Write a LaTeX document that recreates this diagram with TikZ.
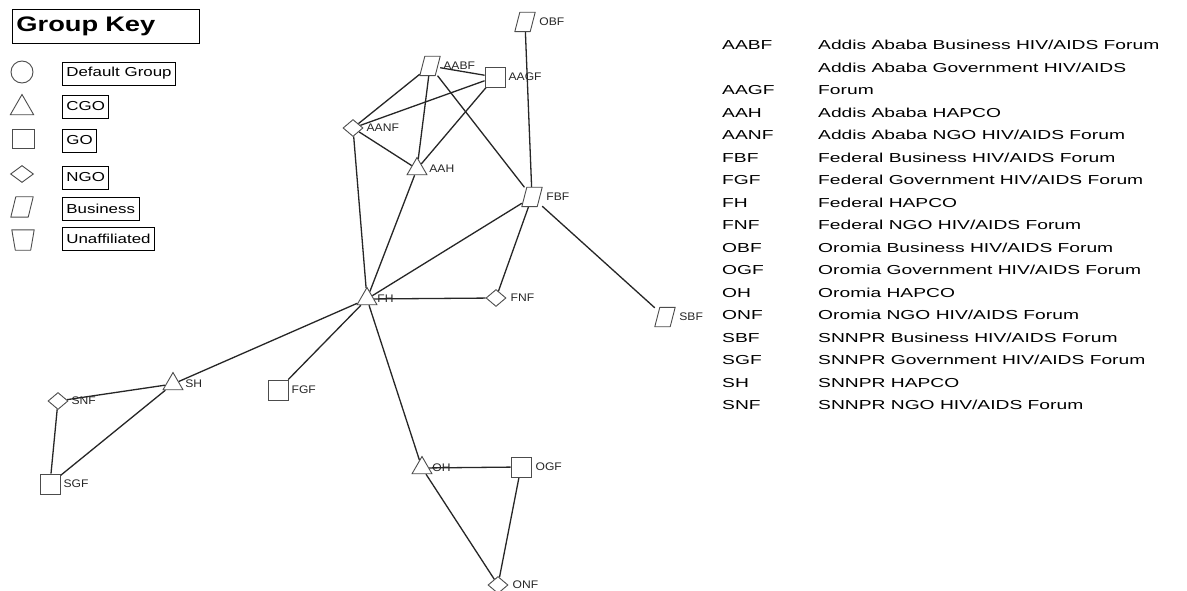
\documentclass[tikz,border=0pt]{standalone}
\usepackage{fontspec}
\setmainfont{Liberation Sans}
\newfontfamily\tabfont[FakeStretch=1.48]{Liberation Sans}
\newfontfamily\keyfont[FakeStretch=1.3]{Liberation Sans}
\newfontfamily\lblfont[FakeStretch=1.1]{Liberation Sans}
\usetikzlibrary{shapes.geometric}
\pgfdeclarelayer{bg}\pgfsetlayers{bg,main}
\tikzset{
  shp/.style={draw=black!70, fill=white, line width=0.9pt, inner sep=0pt},
  tri/.style={shp, regular polygon, regular polygon sides=3, minimum size=23pt},
  sq/.style={shp, rectangle, minimum size=20pt},
  dia/.style={shp, diamond, minimum width=20pt, minimum height=17pt},
  par/.style={inner sep=0pt, rectangle, minimum width=20pt, minimum height=19pt},
  pline/.style={draw=black!70, fill=white, line width=0.9pt, line join=round},
  lbl/.style={font=\lblfont\fontsize{11}{11}\selectfont, text=black!85, inner sep=0pt},
  lnk/.style={draw=black!85, line width=1.3pt},
  keybox/.style={draw=black, line width=0.8pt, font=\keyfont\fontsize{13}{13}\selectfont, inner xsep=4pt, inner ysep=0pt, minimum height=23pt, anchor=west},
  tab/.style={font=\tabfont\fontsize{13}{13}\selectfont, anchor=base west, inner sep=0pt},
}
\begin{document}
\begin{tikzpicture}[x=1pt,y=-1pt]
\useasboundingbox (0,0) rectangle (1187,591);
\begin{pgfonlayer}{bg}
\fill[white] (0,0) rectangle (1187,591);
\end{pgfonlayer}

% ---------- group key ----------
\node[draw=black, line width=0.8pt, anchor=north west, minimum width=187pt, minimum height=34pt,
      text width=179pt, align=left, inner xsep=4pt, font=\keyfont\bfseries\fontsize{21}{21}\selectfont] (gk) at (12,9) {Group Key};
\node[shp, circle, minimum size=22pt] (kc) at (22,72) {};
\node[keybox] (kcl) at (62,73.5) {Default Group};
\node[shp, regular polygon, regular polygon sides=3, minimum size=27pt] (kt) at (22,108) {};
\node[keybox] (ktl) at (62,106.5) {CGO};
\node[shp, rectangle, minimum width=22pt, minimum height=19pt] (ks) at (23,139) {};
\node[keybox] (ksl) at (62,140.5) {GO};
\node[shp, diamond, minimum width=23pt, minimum height=17pt] (kd) at (22,174) {};
\node[keybox] (kdl) at (62,177.5) {NGO};
\node[par, minimum width=22pt, minimum height=20pt] (kp) at (22,207) {};
\draw[pline] (kp.south west) -- ([xshift=-5pt]kp.south east) -- (kp.north east) -- ([xshift=5pt]kp.north west) -- cycle;
\node[keybox] (kpl) at (62,208.5) {Business};
\node[par, minimum width=22pt, minimum height=20pt] (ku) at (23,240) {};
\draw[pline] (ku.north west) -- (ku.north east) -- ([xshift=-3.5pt]ku.south east) -- ([xshift=3.5pt]ku.south west) -- cycle;
\node[keybox] (kul) at (62,238.5) {Unaffiliated};

% ---------- graph nodes ----------
\node[par, label={[lbl,label distance=4pt]east:OBF}] (OBF) at (525,22) {};
\node[par, label={[lbl,label distance=3pt]east:AABF}] (AABF) at (430,66) {};
\node[sq, label={[lbl,label distance=3pt]east:AAGF}] (AAGF) at (495,77) {};
\node[dia, label={[lbl,label distance=3pt]east:AANF}] (AANF) at (353,128) {};
\node[tri, label={[lbl,label distance=5pt]east:AAH}] (AAH) at (417,169) {};
\node[par, label={[lbl,label distance=4pt]east:FBF}] (FBF) at (532,197) {};
\node[tri, label={[lbl,label distance=3pt]east:FH}] (FH) at (367,299) {};
\node[dia, label={[lbl,label distance=4pt]east:FNF}] (FNF) at (496,298) {};
\node[par, label={[lbl,label distance=4pt]east:SBF}] (SBF) at (665,317) {};
\node[tri, label={[lbl,label distance=5pt]east:SH}] (SH) at (173,384) {};
\node[dia, label={[lbl,label distance=3pt]east:SNF}] (SNF) at (58,401) {};
\node[sq, label={[lbl,label distance=3pt]east:FGF}] (FGF) at (278,390) {};
\node[sq, label={[lbl,label distance=3pt]east:SGF}] (SGF) at (50,484) {};
\node[tri, label={[lbl,label distance=3pt]east:OH}] (OH) at (422,468) {};
\node[sq, label={[lbl,label distance=4pt]east:OGF}] (OGF) at (521,467) {};
\node[dia, label={[lbl,label distance=4pt]east:ONF}] (ONF) at (498,585) {};
\foreach \n in {OBF,AABF,FBF,SBF}
  \draw[pline] (\n.south west) -- ([xshift=-5pt]\n.south east) -- (\n.north east) -- ([xshift=5pt]\n.north west) -- cycle;

% ---------- connectors ----------
\begin{pgfonlayer}{bg}
\draw[lnk] (OBF) -- (FBF);
\draw[lnk] (AABF) -- (AAGF);
\draw[lnk] (AABF) -- (AANF);
\draw[lnk] (AABF) -- (AAH);
\draw[lnk] (AABF) -- (FBF);
\draw[lnk] (AAGF) -- (AANF);
\draw[lnk] (AAGF) -- (AAH);
\draw[lnk] (AANF) -- (AAH);
\draw[lnk] (AANF) -- (FH);
\draw[lnk] (AAH) -- (FH);
\draw[lnk] (FBF) -- (FH);
\draw[lnk] (FBF) -- (FNF);
\draw[lnk] (FBF) -- (SBF);
\draw[lnk] (FH) -- (FNF);
\draw[lnk] (FH) -- (SH);
\draw[lnk] (FH) -- (FGF);
\draw[lnk] (FH) -- (OH);
\draw[lnk] (SH) -- (SNF);
\draw[lnk] (SH) -- (SGF);
\draw[lnk] (SNF) -- (SGF);
\draw[lnk] (OH) -- (OGF);
\draw[lnk] (OH) -- (ONF);
\draw[lnk] (OGF) -- (ONF);
\end{pgfonlayer}

% ---------- abbreviation table ----------
\node[tab] (a1) at (722,49.7) {AABF};
\node[tab] (d1) at (818,49.7) {Addis Ababa Business HIV/AIDS Forum};
\node[tab] (d2a) at (818,72.2) {Addis Ababa Government HIV/AIDS};
\node[tab] (a2) at (722,94.7) {AAGF};
\node[tab] (d2b) at (818,94.7) {Forum};
\node[tab] (a3) at (722,117.2) {AAH};
\node[tab] (d3) at (818,117.2) {Addis Ababa HAPCO};
\node[tab] (a4) at (722,139.7) {AANF};
\node[tab] (d4) at (818,139.7) {Addis Ababa NGO HIV/AIDS Forum};
\node[tab] (a5) at (722,162.2) {FBF};
\node[tab] (d5) at (818,162.2) {Federal Business HIV/AIDS Forum};
\node[tab] (a6) at (722,184.7) {FGF};
\node[tab] (d6) at (818,184.7) {Federal Government HIV/AIDS Forum};
\node[tab] (a7) at (722,207.2) {FH};
\node[tab] (d7) at (818,207.2) {Federal HAPCO};
\node[tab] (a8) at (722,229.7) {FNF};
\node[tab] (d8) at (818,229.7) {Federal NGO HIV/AIDS Forum};
\node[tab] (a9) at (722,252.2) {OBF};
\node[tab] (d9) at (818,252.2) {Oromia Business HIV/AIDS Forum};
\node[tab] (a10) at (722,274.7) {OGF};
\node[tab] (d10) at (818,274.7) {Oromia Government HIV/AIDS Forum};
\node[tab] (a11) at (722,297.2) {OH};
\node[tab] (d11) at (818,297.2) {Oromia HAPCO};
\node[tab] (a12) at (722,319.7) {ONF};
\node[tab] (d12) at (818,319.7) {Oromia NGO HIV/AIDS Forum};
\node[tab] (a13) at (722,342.2) {SBF};
\node[tab] (d13) at (818,342.2) {SNNPR Business HIV/AIDS Forum};
\node[tab] (a14) at (722,364.7) {SGF};
\node[tab] (d14) at (818,364.7) {SNNPR Government HIV/AIDS Forum};
\node[tab] (a15) at (722,387.2) {SH};
\node[tab] (d15) at (818,387.2) {SNNPR HAPCO};
\node[tab] (a16) at (722,409.7) {SNF};
\node[tab] (d16) at (818,409.7) {SNNPR NGO HIV/AIDS Forum};
\end{tikzpicture}
\end{document}
